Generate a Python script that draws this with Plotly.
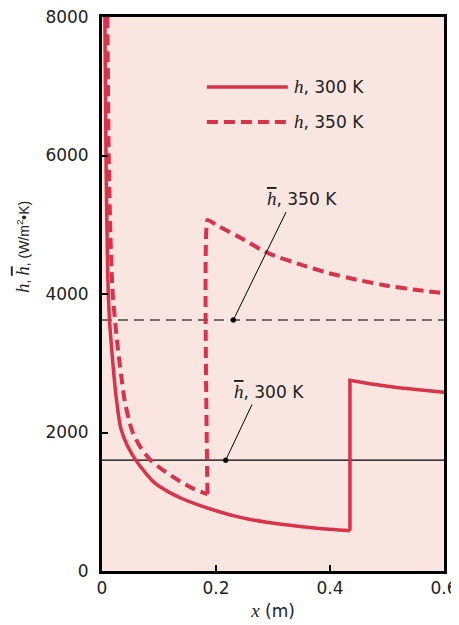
import plotly.graph_objects as go

# Local coefficient h, 300 K: laminar part, then transition jump + turbulent part
x_300_lam = [0.005, 0.007, 0.010, 0.013, 0.017, 0.021, 0.025, 0.033, 0.045, 0.060, 0.075, 0.093,
             0.115, 0.142, 0.17, 0.2, 0.23, 0.26, 0.318, 0.377, 0.435]
h_300_lam = [8000, 6000, 4300, 3650, 3200, 2820, 2500, 2060, 1800, 1590, 1430, 1268,
             1150, 1040, 950, 870, 800, 745, 670, 618, 582]
x_300_turb = [0.435, 0.435, 0.47, 0.517, 0.56, 0.6]
h_300_turb = [582, 2755, 2705, 2650, 2615, 2582]

# Local coefficient h, 350 K
x_350_lam = [0.0095, 0.0118, 0.015, 0.0188, 0.0237, 0.028, 0.034, 0.040, 0.053, 0.068, 0.085,
             0.107, 0.133, 0.16, 0.185]
h_350_lam = [8000, 6000, 4800, 4000, 3550, 3200, 2800, 2450, 2020, 1780, 1603,
             1458, 1314, 1190, 1110]
x_350_turb = [0.185, 0.185, 0.2, 0.25, 0.28, 0.3, 0.35, 0.397, 0.45, 0.5, 0.55, 0.6]
h_350_turb = [1110, 5070, 5000, 4780, 4635, 4560, 4420, 4303, 4200, 4120, 4060, 4010]

# Average coefficients
hbar_300 = 1600
hbar_350 = 3625
x_range = [0, 0.6]

x_ticks = [0, 0.2, 0.4, 0.6]
x_ticklabels = ["0", "0.2", "0.4", "0.6"]
y_ticks = [0, 2000, 4000, 6000, 8000]
y_ticklabels = ["0", "2000", "4000", "6000", "8000"]

RED = "#DA3249"
SERIF = "Liberation Serif"
SANS = "DejaVu Sans"
TXT = "#222222"
FS = 17

def hi(s, size=19, bar=False):
    deco = ";text-decoration:overline" if bar else ""
    return f'<span style="font-family:{SERIF};font-style:italic;font-size:{size}px{deco}">{s}</span>'

fig = go.Figure()

fig.add_trace(go.Scatter(x=x_range, y=[hbar_300, hbar_300], mode="lines",
                         line=dict(color="black", width=1.2), hoverinfo="skip"))
fig.add_trace(go.Scatter(x=x_range, y=[hbar_350, hbar_350], mode="lines",
                         line=dict(color="#444444", width=1.5, dash="10px,6px"), hoverinfo="skip"))
fig.add_trace(go.Scatter(x=x_300_lam, y=h_300_lam, mode="lines", line_shape="spline",
                         line=dict(color=RED, width=3.5, smoothing=0.8)))
fig.add_trace(go.Scatter(x=x_300_turb, y=h_300_turb, mode="lines",
                         line=dict(color=RED, width=3.5)))
fig.add_trace(go.Scatter(x=x_350_lam, y=h_350_lam, mode="lines", line_shape="spline",
                         line=dict(color=RED, width=4, dash="11px,6px", smoothing=0.8)))
fig.add_trace(go.Scatter(x=x_350_turb, y=h_350_turb, mode="lines", line_shape="spline",
                         line=dict(color=RED, width=4, dash="11px,6px", smoothing=0.3)))

# Legend drawn by hand
fig.add_shape(type="line", x0=0.184, x1=0.326, y0=6990, y1=6990, line=dict(color=RED, width=3.5))
fig.add_shape(type="line", x0=0.184, x1=0.326, y0=6485, y1=6485, line=dict(color=RED, width=4, dash="11px,6px"))
fig.add_annotation(x=0.334, y=6990, text=hi("h") + ", 300 K", showarrow=False, xanchor="left",
                   font=dict(family=SANS, size=FS, color=TXT))
fig.add_annotation(x=0.334, y=6485, text=hi("h") + ", 350 K", showarrow=False, xanchor="left",
                   font=dict(family=SANS, size=FS, color=TXT))

# Callouts: text + leader line with dot
fig.add_annotation(x=0.286, y=5379, text=hi("h", bar=True) + ", 350 K", showarrow=False, xanchor="left",
                   font=dict(family=SANS, size=FS, color=TXT))
fig.add_annotation(x=0.2304, y=hbar_350, ax=0.3241, ay=5203, axref="x", ayref="y", text="",
                   showarrow=True, arrowhead=6, arrowsize=1.3, arrowwidth=1, arrowcolor="black", standoff=0)

fig.add_annotation(x=0.228, y=2592, text=hi("h", bar=True) + ", 300 K", showarrow=False, xanchor="left",
                   font=dict(family=SANS, size=FS, color=TXT))
fig.add_annotation(x=0.217, y=hbar_300, ax=0.2644, ay=2426, axref="x", ayref="y", text="",
                   showarrow=True, arrowhead=6, arrowsize=1.3, arrowwidth=1, arrowcolor="black", standoff=0)

# Y axis title (rotated)
fig.add_annotation(xref="paper", yref="paper", x=-0.234, y=0.498, textangle=-90, showarrow=False,
                   xanchor="center", yanchor="bottom",
                   text=hi("h", 19) + ", " + hi("h", 19, bar=True) + ", (W/m<sup>2</sup>•K)",
                   font=dict(family="Liberation Sans", size=14, color=TXT))

fig.update_xaxes(range=[0, 0.6], tickvals=x_ticks, ticktext=x_ticklabels, ticks="inside", ticklen=6,
                 tickwidth=1.5, tickcolor="black", showline=True, linecolor="black", linewidth=2.8,
                 mirror=True, showgrid=False, zeroline=False, automargin=False, ticklabeloverflow="allow",
                 tickfont=dict(family=SANS, size=FS, color=TXT),
                 title=dict(text=hi("x") + " (m)", font=dict(family=SANS, size=FS, color=TXT), standoff=8))
fig.update_yaxes(range=[0, 8000], tickvals=y_ticks, ticktext=y_ticklabels, ticks="inside", ticklen=6,
                 tickwidth=1.5, tickcolor="black", showline=True, linecolor="black", linewidth=2.8,
                 mirror=True, showgrid=False, zeroline=False, automargin=False, ticklabeloverflow="allow",
                 tickfont=dict(family=SANS, size=FS, color=TXT), ticklabelstandoff=7)

# The page places the figure 8 px in from the top-left corner of the window
fig.update_layout(width=451, height=617, margin=dict(l=94, r=15, t=9, b=54),
                  plot_bgcolor="#F9E6E0", paper_bgcolor="white", showlegend=False)

fig.write_html("out.html")
